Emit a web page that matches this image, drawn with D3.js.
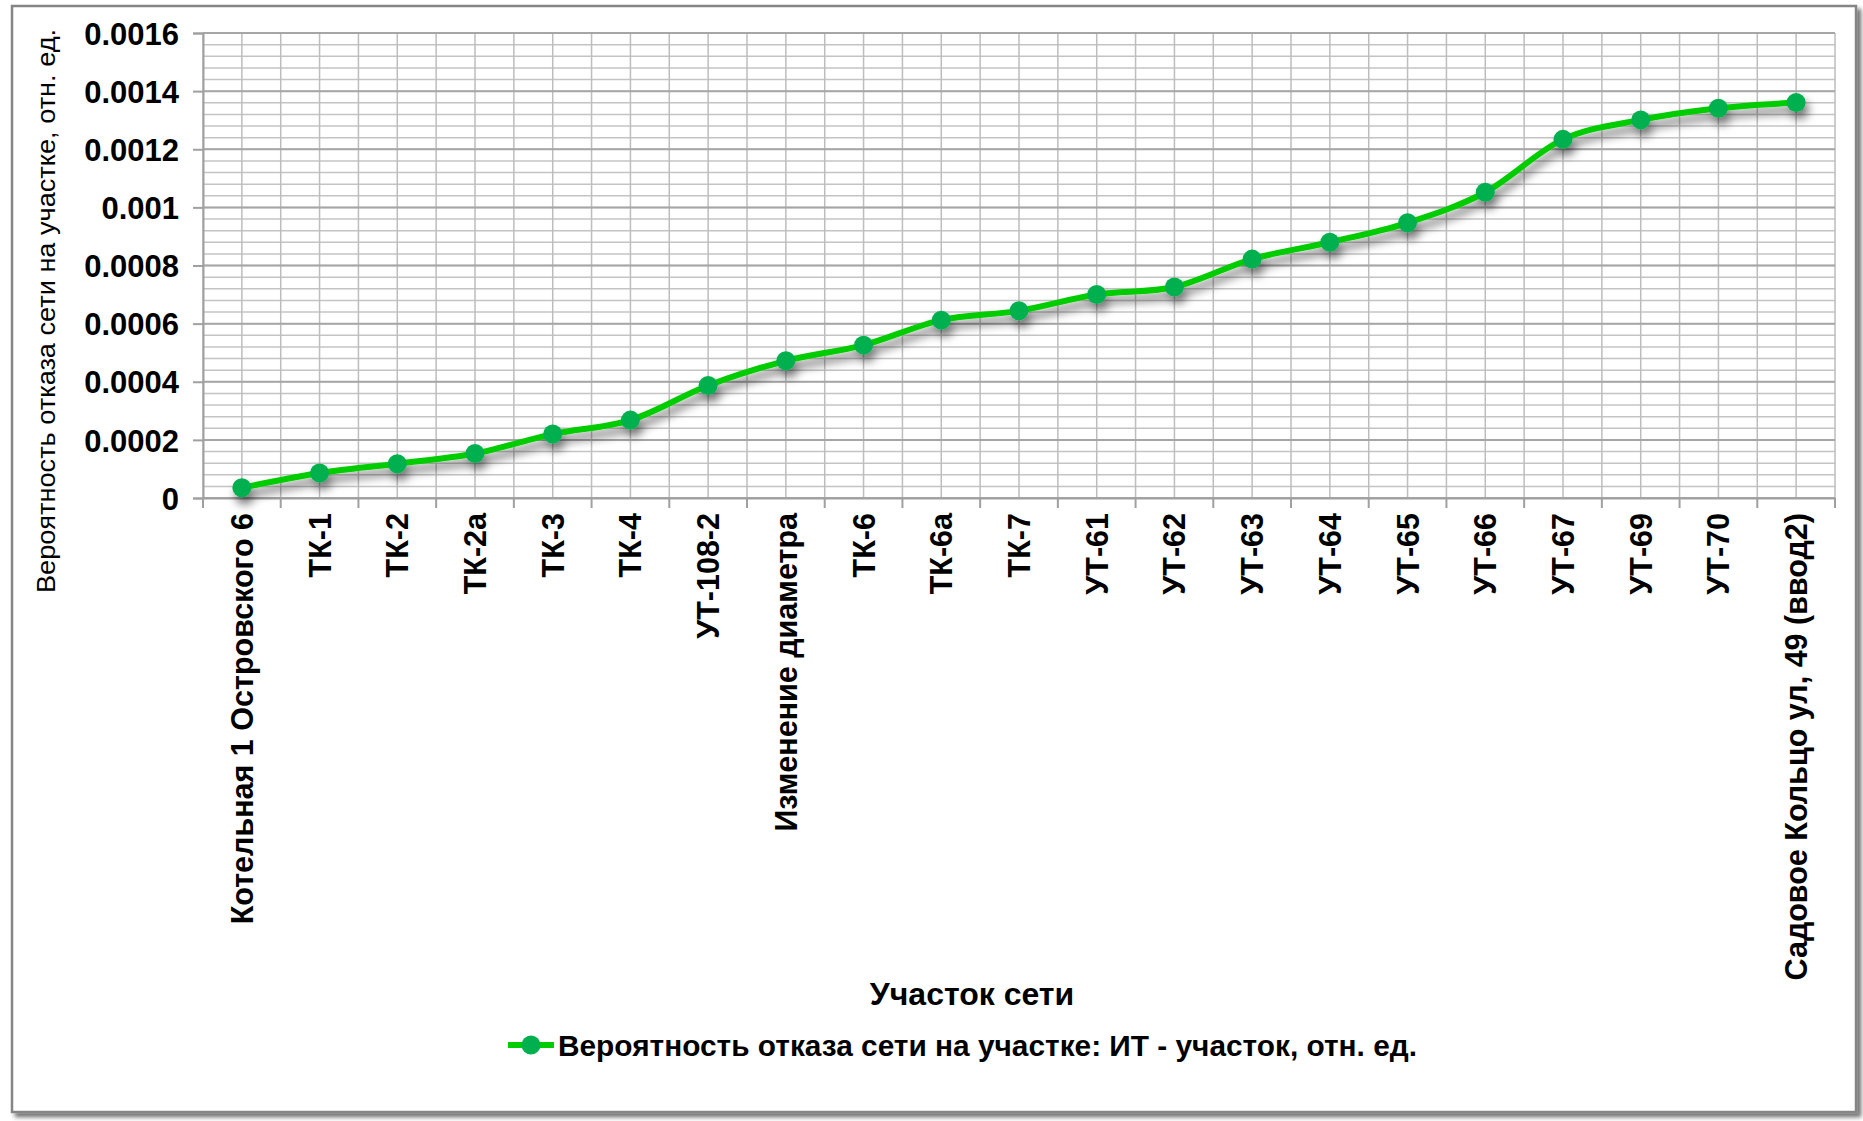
<!DOCTYPE html>
<html>
<head>
<meta charset="utf-8">
<script src="https://cdn.jsdelivr.net/npm/d3@7"></script>
<style>
  body { margin: 0; background: #fff; }
  text { font-family: "Liberation Sans", Arial, sans-serif; fill: #000; }
</style>
</head>
<body>
<div id="chart"></div>
<script>
// Chart data
const categories = [
  "Котельная 1 Островского 6", "ТК-1", "ТК-2", "ТК-2а", "ТК-3", "ТК-4", "УТ-108-2",
  "Изменение диаметра", "ТК-6", "ТК-6а", "ТК-7", "УТ-61", "УТ-62", "УТ-63", "УТ-64",
  "УТ-65", "УТ-66", "УТ-67", "УТ-69", "УТ-70", "Садовое Кольцо ул, 49 (ввод2)"
];
const failureProb = [
  0.000035, 0.000086, 0.000118, 0.000153, 0.00022, 0.000268, 0.000387,
  0.000472, 0.000526, 0.000612, 0.000644, 0.0007, 0.000726, 0.000822, 0.00088,
  0.000947, 0.001052, 0.001234, 0.001301, 0.001341, 0.001361
];
const yTickValues = [0, 0.0002, 0.0004, 0.0006, 0.0008, 0.001, 0.0012, 0.0014, 0.0016];
const yTickLabels = ["0", "0.0002", "0.0004", "0.0006", "0.0008", "0.001", "0.0012", "0.0014", "0.0016"];
const seriesName = "Вероятность отказа сети на участке: ИТ - участок, отн. ед.";
const xTitle = "Участок сети";
const yTitle = "Вероятность отказа сети на участке, отн. ед.";

const W = 1863, H = 1121;
const plot = { left: 203, right: 1835, top: 33, bottom: 498 };

const svg = d3.select("#chart").append("svg")
  .attr("width", W).attr("height", H);

const defs = svg.append("defs");
defs.append("filter").attr("id", "frameShadow")
  .attr("x", "-2%").attr("y", "-2%").attr("width", "104%").attr("height", "104%")
  .append("feDropShadow")
  .attr("dx", 4).attr("dy", 4).attr("stdDeviation", 2)
  .attr("flood-color", "#000").attr("flood-opacity", 0.55);
defs.append("filter").attr("id", "lineShadow")
  .attr("x", "-5%").attr("y", "-20%").attr("width", "110%").attr("height", "140%")
  .append("feDropShadow")
  .attr("dx", 3).attr("dy", 7).attr("stdDeviation", 5)
  .attr("flood-color", "#000").attr("flood-opacity", 0.55);

// outer chart frame
svg.append("rect")
  .attr("x", 12).attr("y", 6).attr("width", 1844).attr("height", 1106)
  .attr("fill", "#fff").attr("stroke", "#858585").attr("stroke-width", 2.5)
  .attr("filter", "url(#frameShadow)");

// scales
const x = d3.scaleBand().domain(categories).range([plot.left, plot.right]);
const y = d3.scaleLinear().domain([0, 0.0016]).range([plot.bottom, plot.top]);

// minor horizontal gridlines
const minorY = d3.range(0, 41).map(i => i * 0.00004);
svg.append("g").selectAll("line")
  .data(minorY)
  .join("line")
  .attr("x1", plot.left).attr("x2", plot.right)
  .attr("y1", d => y(d)).attr("y2", d => y(d))
  .attr("stroke", "#c4c4c4").attr("stroke-width", 1.5);

// vertical gridlines, at band edges and band centres
const bw = x.bandwidth();
const vLines = [];
categories.forEach(c => { vLines.push(x(c)); vLines.push(x(c) + bw / 2); });
vLines.push(plot.right);
svg.append("g").selectAll("line")
  .data(vLines)
  .join("line")
  .attr("x1", d => d).attr("x2", d => d)
  .attr("y1", plot.top).attr("y2", plot.bottom)
  .attr("stroke", "#bdbdbd").attr("stroke-width", 1.5);

// major horizontal gridlines
svg.append("g").selectAll("line")
  .data(yTickValues)
  .join("line")
  .attr("x1", plot.left).attr("x2", plot.right)
  .attr("y1", d => y(d)).attr("y2", d => y(d))
  .attr("stroke", "#a6a6a6").attr("stroke-width", 2);

// Y axis
const yAxis = svg.append("g")
  .attr("transform", `translate(${plot.left},0)`)
  .call(d3.axisLeft(y).tickValues(yTickValues)
    .tickFormat((d, i) => yTickLabels[i]).tickSize(10).tickPadding(14));
yAxis.select(".domain").attr("stroke", "#a0a0a0").attr("stroke-width", 2);
yAxis.selectAll(".tick line").attr("stroke", "#a0a0a0").attr("stroke-width", 2);
yAxis.selectAll(".tick text")
  .style("font-size", "31px").style("font-weight", "bold")
  .attr("dy", "0.36em");

// X axis: labels at band centres, ticks at band edges
const xAxis = svg.append("g")
  .attr("transform", `translate(0,${plot.bottom})`)
  .call(d3.axisBottom(x).tickSize(0));
xAxis.select(".domain").attr("stroke", "#a0a0a0").attr("stroke-width", 2);
xAxis.selectAll(".tick text")
  .style("font-size", "30.5px").style("font-weight", "bold")
  .attr("text-anchor", "end")
  .attr("transform", "rotate(-90)")
  .attr("x", -15).attr("y", 11).attr("dy", 0);

const edges = categories.map(c => x(c)).concat([plot.right]);
svg.append("g").selectAll("line")
  .data(edges)
  .join("line")
  .attr("x1", d => d).attr("x2", d => d)
  .attr("y1", plot.bottom).attr("y2", plot.bottom + 10)
  .attr("stroke", "#a0a0a0").attr("stroke-width", 2);

// series line + markers
const series = categories.map((c, i) => ({ cat: c, v: failureProb[i] }));
const line = d3.line()
  .x(d => x(d.cat) + bw / 2)
  .y(d => y(d.v))
  .curve(d3.curveCatmullRom.alpha(0));

const sg = svg.append("g").attr("filter", "url(#lineShadow)");
sg.append("path")
  .datum(series)
  .attr("d", line)
  .attr("fill", "none")
  .attr("stroke", "#00cc00")
  .attr("stroke-width", 6)
  .attr("stroke-linejoin", "round");
sg.selectAll("circle")
  .data(series)
  .join("circle")
  .attr("cx", d => x(d.cat) + bw / 2)
  .attr("cy", d => y(d.v))
  .attr("r", 9.5)
  .attr("fill", "#00b050");

// axis titles
svg.append("text")
  .attr("transform", "translate(55,311) rotate(-90)")
  .attr("text-anchor", "middle")
  .attr("textLength", 564).attr("lengthAdjust", "spacingAndGlyphs")
  .style("font-size", "26px")
  .text(yTitle);

svg.append("text")
  .attr("x", 972).attr("y", 1005)
  .attr("text-anchor", "middle")
  .style("font-size", "32px").style("font-weight", "bold")
  .text(xTitle);

// legend
const lg = svg.append("g");
lg.append("line")
  .attr("x1", 508).attr("x2", 554).attr("y1", 1045).attr("y2", 1045)
  .attr("stroke", "#00cc00").attr("stroke-width", 6);
lg.append("circle")
  .attr("cx", 531).attr("cy", 1045).attr("r", 9.5).attr("fill", "#00b050");
lg.append("text")
  .attr("x", 558).attr("y", 1056)
  .attr("textLength", 859).attr("lengthAdjust", "spacingAndGlyphs")
  .style("font-size", "29px").style("font-weight", "bold")
  .text(seriesName);
</script>
</body>
</html>
